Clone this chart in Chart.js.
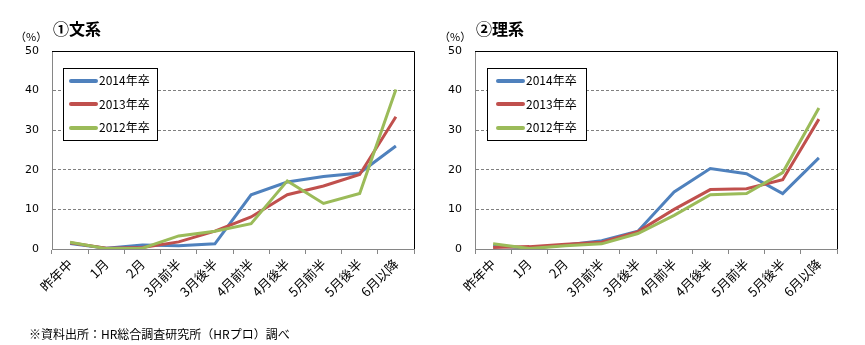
<!DOCTYPE html>
<html>
<head>
<meta charset="utf-8">
<script src="https://cdn.jsdelivr.net/npm/chart.js@4.4.0/dist/chart.umd.min.js"></script>
<style>
  body { margin: 0; background: #fff; width: 865px; height: 345px; position: relative; overflow: hidden;
         font-family: "Noto Sans CJK JP", sans-serif; }
  .panel { position: absolute; top: 0; height: 345px; }
  .title { position: absolute; top: 16px; font-size: 16px; font-weight: bold; color: #000; }
  .unit { position: absolute; top: 28px; font-size: 11px; color: #000; }
  .legend { position: absolute; top: 68px; height: 73px; border: 1px solid #000; background: #fff; box-sizing: border-box; }
  .legend div { position: absolute; font-size: 12px; line-height: 14px; color: #000; white-space: nowrap; }
  .legend span { display: inline-block; width: 29px; height: 4px; border-radius: 2px; vertical-align: middle; margin-right: 1px; position: relative; top: -1px; }
  .note { position: absolute; left: 29px; top: 325px; font-size: 12px; color: #000; }
</style>
</head>
<body>

<div class="panel" style="left:0;width:430px">
  <canvas id="c1" width="430" height="345"></canvas>
  <div class="title" style="left:53px">①文系</div>
  <div class="unit" style="left:15px">（%）</div>
  <div class="legend" id="lg1" style="left:63px;width:95px"></div>
</div>
<div class="panel" style="left:430px;width:435px">
  <canvas id="c2" width="435" height="345"></canvas>
  <div class="title" style="left:46px">②理系</div>
  <div class="unit" style="left:9px">（%）</div>
  <div class="legend" id="lg2" style="left:57px;width:100px"></div>
</div>
<div class="note">※資料出所：HR総合調査研究所（HRプロ）調べ</div>

<script>
// categories
const labels = ['昨年中', '1月', '2月', '3月前半', '3月後半', '4月前半', '4月後半', '5月前半', '5月後半', '6月以降'];
const seriesNames = ['2014年卒', '2013年卒', '2012年卒'];

// ①文系 (%)
const bunkei2014 = [1.4, 0.2, 1.0, 0.8, 1.3, 13.7, 16.9, 18.3, 19.2, 26.0];
const bunkei2013 = [1.6, 0.2, 0.4, 1.8, 4.5, 8.1, 13.7, 15.9, 18.8, 33.4];
const bunkei2012 = [1.7, 0.1, 0.2, 3.3, 4.5, 6.4, 17.2, 11.5, 14.0, 40.3];

// ②理系 (%)
const rikei2014 = [0.8, 0.2, 1.0, 2.1, 4.5, 14.4, 20.3, 19.0, 14.0, 23.0];
const rikei2013 = [0.4, 0.6, 1.2, 1.7, 4.4, 10.0, 15.0, 15.2, 17.5, 32.8];
const rikei2012 = [1.3, 0.1, 0.8, 1.3, 3.9, 8.5, 13.7, 14.0, 19.3, 35.6];

const yMin = 0, yMax = 50, yStep = 10;
const colors = ['#4F81BD', '#C0504D', '#9BBB59'];

// top and right edges of the plot area are black
const framePlugin = {
  id: 'frame',
  afterDatasetsDraw(chart) {
    const a = chart.chartArea, ctx = chart.ctx;
    ctx.save();
    ctx.strokeStyle = '#000';
    ctx.lineWidth = 1;
    ctx.beginPath();
    ctx.moveTo(a.left, Math.round(a.top) + 0.5);
    ctx.lineTo(Math.round(a.right) + 0.5, Math.round(a.top) + 0.5);
    ctx.lineTo(Math.round(a.right) + 0.5, a.bottom);
    ctx.stroke();
    ctx.restore();
  }
};

function makeChart(id, values, yWidth, rightPad) {
  new Chart(document.getElementById(id), {
    type: 'line',
    data: {
      labels: labels,
      datasets: values.map((v, i) => ({
        label: seriesNames[i],
        data: v,
        borderColor: colors[i],
        backgroundColor: colors[i],
        borderWidth: 3,
        pointRadius: 0,
        tension: 0
      })).reverse()
    },
    options: {
      responsive: false,
      animation: false,
      layout: { padding: { top: 51, right: rightPad, left: 0, bottom: 26 } },
      plugins: { legend: { display: false }, tooltip: { enabled: false } },
      scales: {
        x: {
          offset: true,
          grid: { offset: true, drawOnChartArea: false, drawTicks: true, tickLength: 5, color: '#868686' },
          border: { color: '#868686' },
          ticks: { maxRotation: 45, minRotation: 45, autoSkip: false, padding: 2, color: '#000',
                   font: { family: '"Noto Sans CJK JP"', size: 13 } },
          afterFit(s) { s.height = 70; }
        },
        y: {
          min: yMin, max: yMax,
          grid: {
            drawTicks: false,
            color: ctx => (ctx.tick.value === yMin || ctx.tick.value === yMax) ? 'rgba(0,0,0,0)' : '#808080'
          },
          border: { color: '#868686', dash: [3, 2] },
          ticks: { stepSize: yStep, padding: 13, color: '#000',
                   font: { family: '"DejaVu Sans"', size: 11 } },
          afterFit(s) { s.width = yWidth; }
        }
      }
    },
    plugins: [framePlugin]
  });
}

function makeLegend(id, lineLeft) {
  const box = document.getElementById(id);
  seriesNames.forEach((n, i) => {
    const d = document.createElement('div');
    d.style.left = lineLeft + 'px';
    d.style.top = (4 + i * 23.5) + 'px';
    d.innerHTML = '<span style="background:' + colors[i] + '"></span>' + n;
    box.appendChild(d);
  });
}

makeChart('c1', [bunkei2014, bunkei2013, bunkei2012], 52, 16);
makeChart('c2', [rikei2014, rikei2013, rikei2012], 45, 28);
makeLegend('lg1', 5);
makeLegend('lg2', 8);
</script>
</body>
</html>
